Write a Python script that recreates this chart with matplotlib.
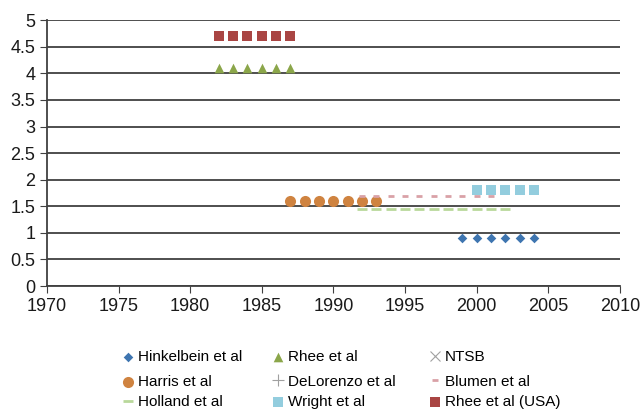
import matplotlib
matplotlib.use("Agg")
import matplotlib.pyplot as plt

plt.rcParams["font.family"] = ["Liberation Sans", "DejaVu Sans"]

# series data (year, value)
hinkelbein_x = [1999, 2000, 2001, 2002, 2003, 2004]
hinkelbein_y = [0.9, 0.9, 0.9, 0.9, 0.9, 0.9]
harris_x = [1987, 1988, 1989, 1990, 1991, 1992, 1993]
harris_y = [1.6, 1.6, 1.6, 1.6, 1.6, 1.6, 1.6]
holland_x = [1992, 1993, 1994, 1995, 1996, 1997, 1998, 1999, 2000, 2001, 2002]
holland_y = [1.45] * 11
rhee_x = [1982, 1983, 1984, 1985, 1986, 1987]
rhee_y = [4.1, 4.1, 4.1, 4.1, 4.1, 4.1]
delorenzo_x = []
delorenzo_y = []
wright_x = [2000, 2001, 2002, 2003, 2004]
wright_y = [1.8, 1.8, 1.8, 1.8, 1.8]
ntsb_x = []
ntsb_y = []
blumen_x = [1992, 1993, 1994, 1995, 1996, 1997, 1998, 1999, 2000, 2001]
blumen_y = [1.7] * 10
rhee_usa_x = [1982, 1983, 1984, 1985, 1986, 1987]
rhee_usa_y = [4.7, 4.7, 4.7, 4.7, 4.7, 4.7]

fig = plt.figure(figsize=(6.43, 4.11), dpi=100)
ax = fig.add_axes([0.073, 0.304, 0.891, 0.647])

h1 = ax.scatter(hinkelbein_x, hinkelbein_y, marker="D", s=24, color="#3E75B0", linewidths=0, label="Hinkelbein et al", zorder=3)
h2 = ax.scatter(harris_x, harris_y, marker="o", s=64, color="#CF8340", linewidths=0, label="Harris et al", zorder=3)
h3, = ax.plot(holland_x, holland_y, ls="none", marker="_", ms=7.2, mew=2, color="#B9D89B", label="Holland et al", zorder=3)
h4 = ax.scatter(rhee_x, rhee_y, marker="^", s=48, color="#8BA64A", linewidths=0, label="Rhee et al", zorder=3)
h5, = ax.plot(delorenzo_x, delorenzo_y, ls="none", marker="+", ms=8, mew=0.8, color="#A0A0A0", label="DeLorenzo et al")
h6 = ax.scatter(wright_x, wright_y, marker="s", s=62, color="#93CDDE", linewidths=0, label="Wright et al", zorder=3)
h7, = ax.plot(ntsb_x, ntsb_y, ls="none", marker="x", ms=7, mew=0.8, color="#A0A0A0", label="NTSB")
h8, = ax.plot(blumen_x, blumen_y, ls="none", marker="_", ms=4.3, mew=2, color="#D9A1A7", label="Blumen et al", zorder=3)
h9 = ax.scatter(rhee_usa_x, rhee_usa_y, marker="s", s=52, color="#A94543", linewidths=0, label="Rhee et al (USA)", zorder=3)

ax.set_xlim(1970, 2010)
ax.set_ylim(0, 5)
ax.set_xticks(range(1970, 2011, 5))
ax.set_yticks([0, 0.5, 1, 1.5, 2, 2.5, 3, 3.5, 4, 4.5, 5])
ax.set_yticklabels(["0", "0.5", "1", "1.5", "2", "2.5", "3", "3.5", "4", "4.5", "5"])
ax.yaxis.grid(True, color="#404040", lw=1.3)
ax.set_axisbelow(True)
for s in ["top", "right"]:
    ax.spines[s].set_visible(False)
ax.spines["left"].set_color("#404040")
ax.spines["bottom"].set_color("#404040")
ax.spines["left"].set_linewidth(1.3)
ax.spines["bottom"].set_linewidth(1.3)
ax.tick_params(axis="both", labelsize=13, length=5, color="#404040", labelcolor="#1a1a1a")

# legend laid out as a 3x3 grid, one small legend per entry
col_x = [0.192, 0.425, 0.669]
row_y = [0.131, 0.071, 0.022]
grid = [[h1, h4, h7], [h2, h5, h8], [h3, h6, h9]]
for r, row in enumerate(grid):
    for c, h in enumerate(row):
        fig.legend(handles=[h], loc="center left",
                   bbox_to_anchor=(col_x[c], row_y[r]), frameon=False,
                   fontsize=11, handlelength=0.6, handletextpad=0.35,
                   borderaxespad=0, borderpad=0)

plt.savefig("out.png", dpi=100)
